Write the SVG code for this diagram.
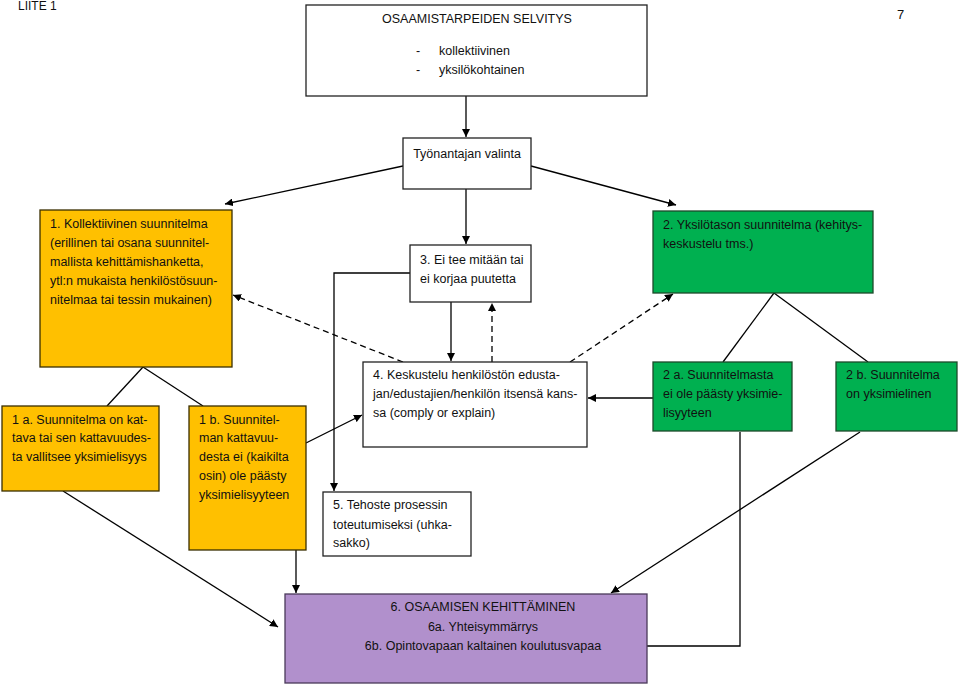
<svg xmlns="http://www.w3.org/2000/svg" width="959" height="685" viewBox="0 0 959 685">
<defs>
<marker id="ah" viewBox="0 0 10 10" refX="10" refY="5" markerWidth="8" markerHeight="8" markerUnits="userSpaceOnUse" orient="auto">
<path d="M0,0 L10,5 L0,10 z" fill="#000"/>
</marker>
</defs>
<style>
text{font-family:"Liberation Sans",Arial,sans-serif;font-size:12.5px;fill:#111}
.w{fill:#fff;stroke:#222;stroke-width:1.3}
.o{fill:#FFC000;stroke:#3a2e00;stroke-width:1.3}
.g{fill:#00B050;stroke:#1c4a2a;stroke-width:1.3}
.p{fill:#B190CC;stroke:#4a3a5a;stroke-width:1.3}
.c{fill:none;stroke:#000;stroke-width:1.3}
.a{marker-end:url(#ah)}
.d{stroke-dasharray:6,4}
.m{text-anchor:middle}
</style>
<rect width="959" height="685" fill="#fff"/>
<text x="18" y="10" style="font-size:12px">LIITE 1</text>
<text x="897" y="19" style="font-size:13px">7</text>

<g id="connectors">
<line class="c a" x1="466" y1="96" x2="466" y2="137"/>
<line class="c a" x1="403" y1="166" x2="225" y2="204"/>
<line class="c a" x1="531" y1="166" x2="676" y2="205"/>
<line class="c a" x1="466" y1="189" x2="466" y2="244"/>
<polyline class="c a" points="410,273 334,273 334,491"/>
<line class="c a" x1="451" y1="302" x2="451" y2="361"/>
<line class="c a d" x1="492" y1="362" x2="492" y2="303"/>
<line class="c a d" x1="403" y1="362" x2="233" y2="295"/>
<line class="c a d" x1="570" y1="362" x2="673" y2="294"/>
<line class="c" x1="143" y1="367" x2="107" y2="406"/>
<line class="c" x1="143" y1="367" x2="203" y2="406"/>
<line class="c" x1="774" y1="293" x2="723" y2="362"/>
<line class="c" x1="774" y1="293" x2="868" y2="362"/>
<line class="c a" x1="306" y1="443" x2="362" y2="415"/>
<line class="c a" x1="653" y1="398" x2="588" y2="398"/>
<line class="c a" x1="63" y1="491" x2="278" y2="627"/>
<line class="c a" x1="296" y1="550" x2="296" y2="593"/>
<line class="c a" x1="860" y1="432" x2="611" y2="593"/>
<polyline class="c a" points="740,432 740,646 611,646"/>
</g>

<g id="n-top">
<rect class="w" x="306" y="5" width="341" height="91"/>
<text class="m" x="477" y="23">OSAAMISTARPEIDEN SELVITYS</text>
<text x="416" y="55">-</text>
<text x="439" y="55">kollektiivinen</text>
<text x="416" y="74">-</text>
<text x="439" y="74">yksilökohtainen</text>
</g>

<g id="n-valinta">
<rect class="w" x="403" y="138" width="128" height="51"/>
<text class="m" x="467" y="158">Työnantajan valinta</text>
</g>

<g id="n1">
<rect class="o" x="40" y="210" width="192" height="157"/>
<text x="50" y="228">1. Kollektiivinen suunnitelma</text>
<text x="50" y="247">(erillinen tai osana suunnitel-</text>
<text x="50" y="266">mallista kehittämishanketta,</text>
<text x="50" y="285">ytl:n mukaista henkilöstösuun-</text>
<text x="50" y="304">nitelmaa tai tessin mukainen)</text>
</g>

<g id="n2">
<rect class="g" x="653" y="211" width="220" height="82"/>
<text x="663" y="229">2. Yksilötason suunnitelma (kehitys-</text>
<text x="663" y="248">keskustelu tms.)</text>
</g>

<g id="n3">
<rect class="w" x="410" y="245" width="121" height="57"/>
<text x="420" y="264">3. Ei tee mitään tai</text>
<text x="420" y="283">ei korjaa puutetta</text>
</g>

<g id="n4">
<rect class="w" x="363" y="362" width="224" height="85"/>
<text x="373" y="379">4. Keskustelu henkilöstön edusta-</text>
<text x="373" y="398">jan/edustajien/henkilön itsensä kans-</text>
<text x="373" y="417">sa (comply or explain)</text>
</g>

<g id="n1a">
<rect class="o" x="2" y="406" width="157" height="85"/>
<text x="12" y="424">1 a. Suunnitelma on kat-</text>
<text x="12" y="442">tava tai sen kattavuudes-</text>
<text x="12" y="461">ta vallitsee yksimielisyys</text>
</g>

<g id="n1b">
<rect class="o" x="189" y="406" width="117" height="144"/>
<text x="199" y="424">1 b. Suunnitel-</text>
<text x="199" y="442">man kattavuu-</text>
<text x="199" y="461">desta ei (kaikilta</text>
<text x="199" y="480">osin) ole päästy</text>
<text x="199" y="499">yksimielisyyteen</text>
</g>

<g id="n2a">
<rect class="g" x="653" y="362" width="139" height="69"/>
<text x="663" y="379">2 a. Suunnitelmasta</text>
<text x="663" y="398">ei ole päästy yksimie-</text>
<text x="663" y="417">lisyyteen</text>
</g>

<g id="n2b">
<rect class="g" x="836" y="362" width="121" height="69"/>
<text x="846" y="379">2 b. Suunnitelma</text>
<text x="846" y="398">on yksimielinen</text>
</g>

<g id="n5">
<rect class="w" x="323" y="492" width="148" height="64"/>
<text x="333" y="509">5. Tehoste prosessin</text>
<text x="333" y="529">toteutumiseksi (uhka-</text>
<text x="333" y="547">sakko)</text>
</g>

<g id="n6">
<rect class="p" x="285" y="594" width="362" height="89"/>
<text class="m" x="483" y="611">6. OSAAMISEN KEHITTÄMINEN</text>
<text class="m" x="483" y="631">6a. Yhteisymmärrys</text>
<text class="m" x="483" y="650">6b. Opintovapaan kaltainen koulutusvapaa</text>
</g>
</svg>
